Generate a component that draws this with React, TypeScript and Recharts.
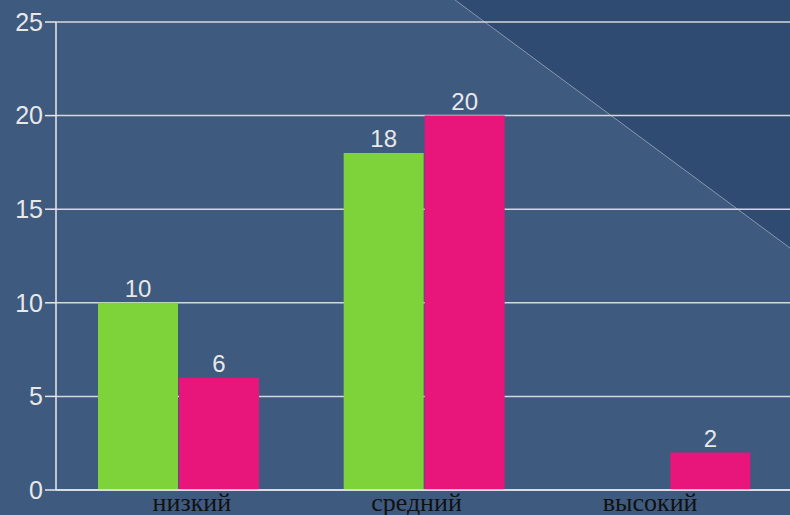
import React from 'react';
import { BarChart, Bar, XAxis, YAxis, CartesianGrid, LabelList } from 'recharts';

const categories = ['низкий', 'средний', 'высокий'];
const greenValues = [10, 18, null];
const pinkValues = [6, 20, 2];
const yTicks = [0, 5, 10, 15, 20, 25];

// label nudges seen in the original slide
const labelShift = [13, -8, -20];

const data = categories.map((name, i) => ({
  name,
  green: greenValues[i],
  pink: pinkValues[i],
}));

const CategoryTick = (props: any) => {
  const { x, y, payload, index } = props;
  return (
    <text
      x={x + (labelShift[index] || 0)}
      y={y + 13}
      textAnchor="middle"
      fill="#111"
      fontFamily="'Liberation Serif', 'Times New Roman', serif"
      fontSize={26}
    >
      {payload.value}
    </text>
  );
};

const labelStyle = {
  fill: '#e8e8e8',
  fontSize: 24,
  fontFamily: "'Liberation Sans', Arial, sans-serif",
};

export default function App() {
  return (
    <div
      style={{
        position: 'absolute',
        top: 0,
        left: 0,
        width: 790,
        height: 515,
        overflow: 'hidden',
        background: '#3e5a7f',
      }}
    >
      <svg width={790} height={515} style={{ position: 'absolute', top: 0, left: 0 }}>
        <polygon points="455,0 790,0 790,248" fill="#2f4b71" />
        <line x1={455} y1={0} x2={790} y2={248} stroke="#8797b2" strokeWidth={1} />
      </svg>
      <div style={{ position: 'absolute', top: 0, left: 0 }}>
        <BarChart
          width={793}
          height={515}
          data={data}
          margin={{ top: 22, right: 0, left: 0, bottom: 0 }}
          barCategoryGap={42}
          barGap={1}
        >
          <CartesianGrid vertical={false} stroke="#d4d8de" strokeWidth={1.5} />
          <YAxis
            width={56}
            domain={[0, 25]}
            ticks={yTicks}
            interval={0}
            axisLine={{ stroke: '#e8e8e8', strokeWidth: 1.5 }}
            tickLine={{ stroke: '#e8e8e8', strokeWidth: 1.5 }}
            tickSize={11}
            tick={{
              fill: '#e8e8e8',
              fontSize: 25,
              fontFamily: "'Liberation Sans', Arial, sans-serif",
            }}
          />
          <XAxis
            dataKey="name"
            height={25}
            interval={0}
            axisLine={{ stroke: '#e8e8e8', strokeWidth: 1.5 }}
            tickLine={false}
            tick={<CategoryTick />}
          />
          <Bar dataKey="green" fill="#7ed23a" isAnimationActive={false}>
            <LabelList dataKey="green" position="top" offset={6} style={labelStyle} />
          </Bar>
          <Bar dataKey="pink" fill="#e8157a" isAnimationActive={false}>
            <LabelList dataKey="pink" position="top" offset={6} style={labelStyle} />
          </Bar>
        </BarChart>
      </div>
    </div>
  );
}
